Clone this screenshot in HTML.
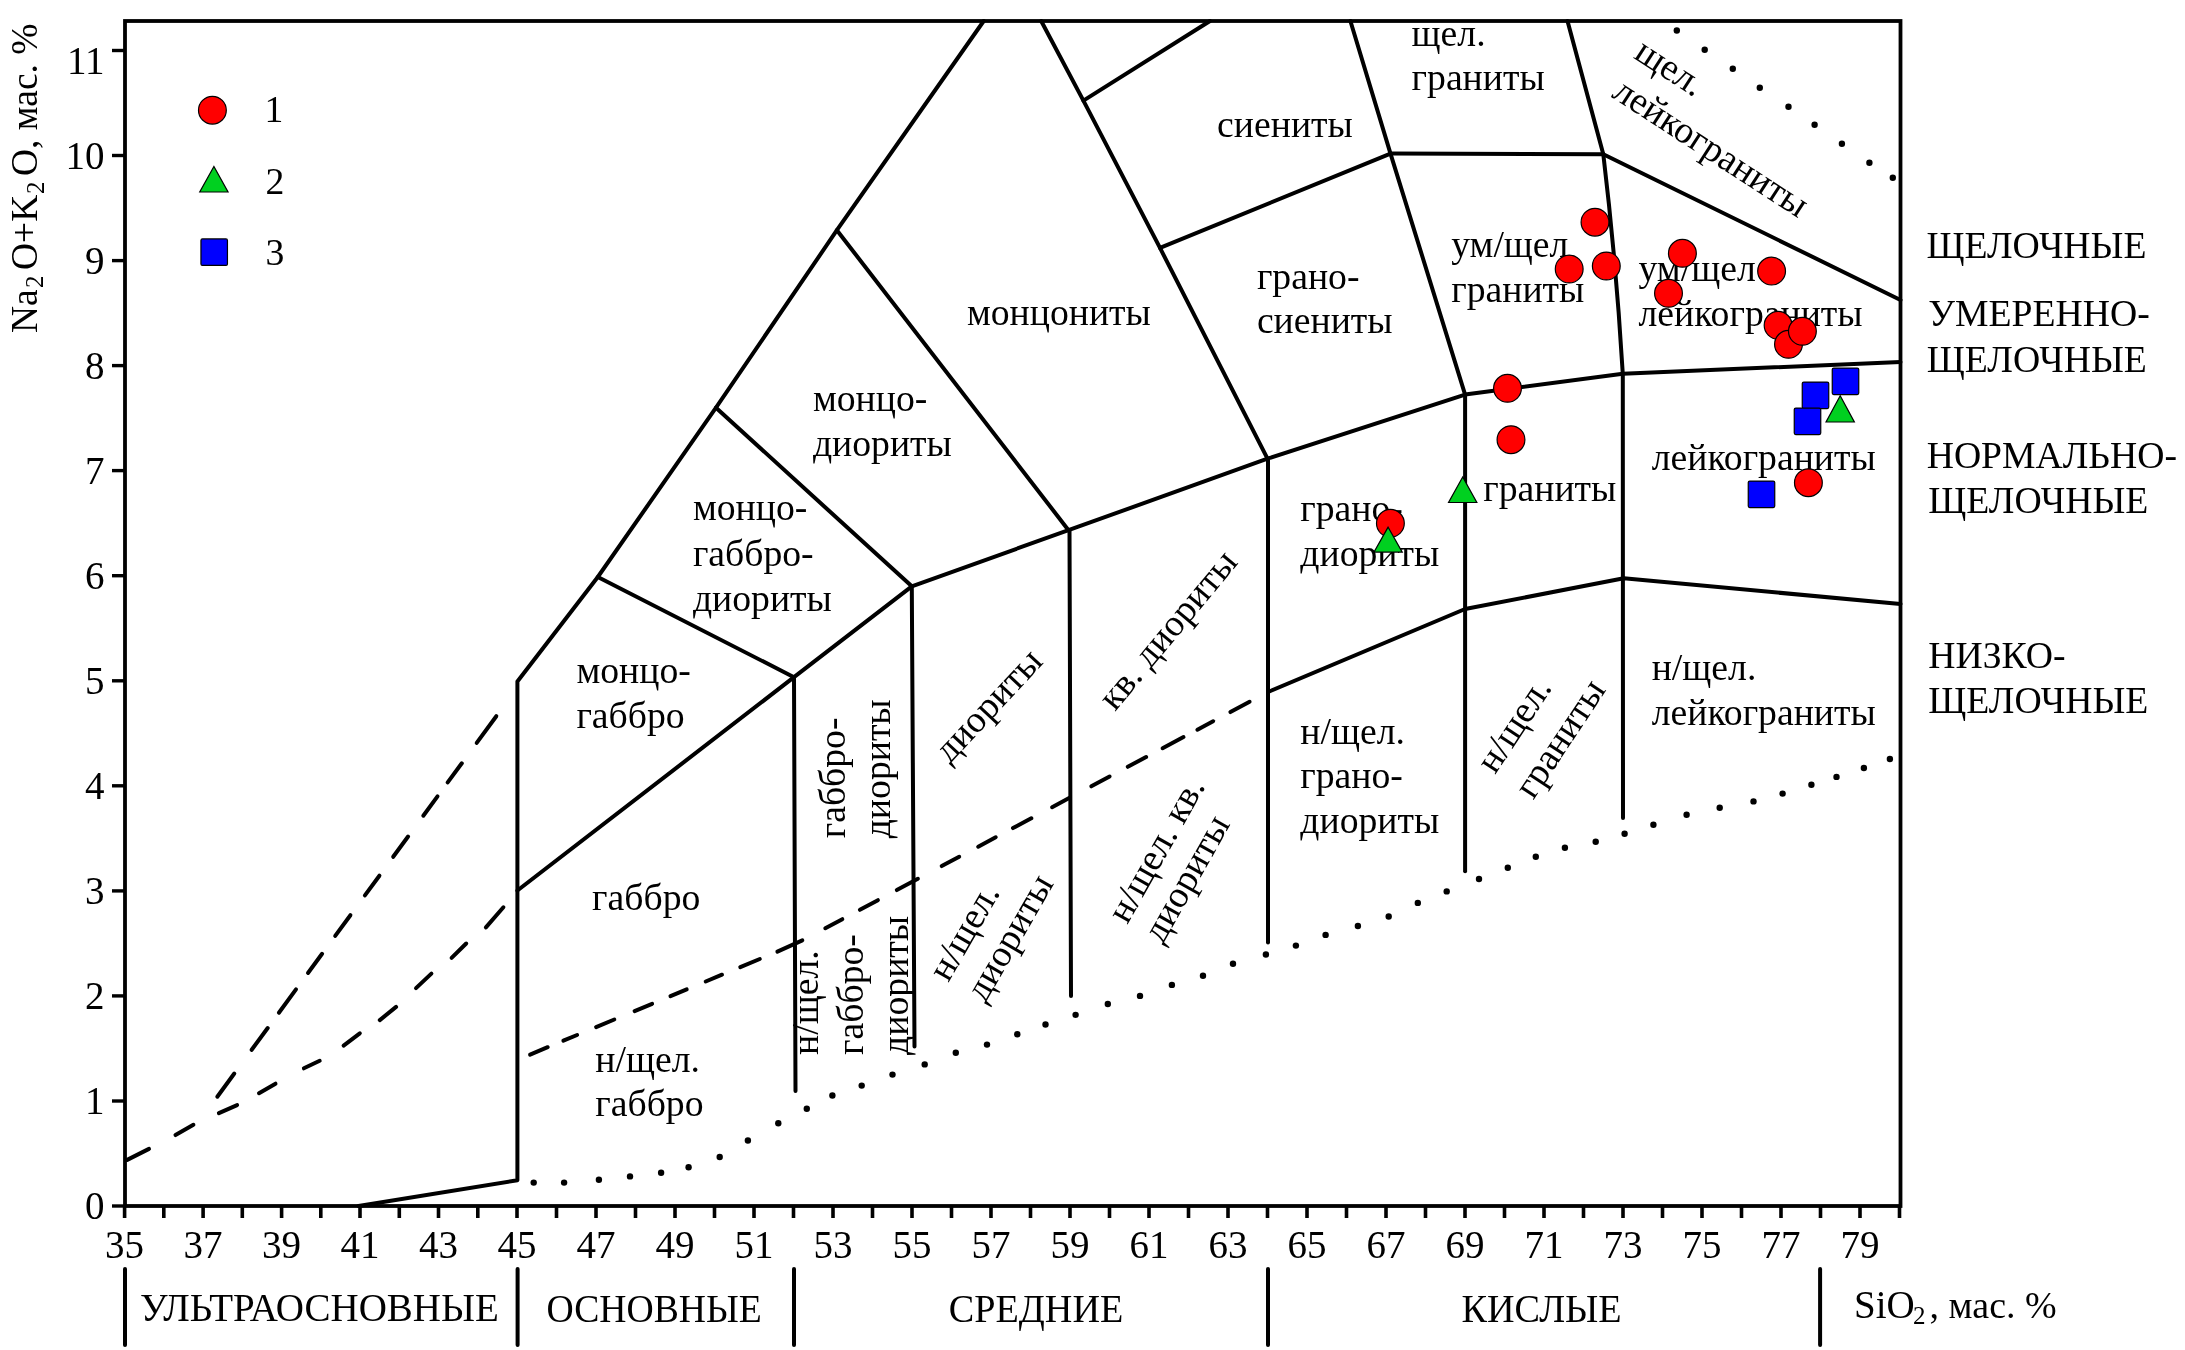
<!DOCTYPE html>
<html><head><meta charset="utf-8"><style>
html,body{margin:0;padding:0;background:#fff;}
svg{display:block;will-change:transform;}
text{font-family:"Liberation Serif",serif;fill:#000;}
</style></head><body>
<svg width="2185" height="1350" viewBox="0 0 2185 1350">
<rect width="2185" height="1350" fill="#fff"/>
<rect x="125.0" y="21.0" width="1775.5" height="1185.0" fill="none" stroke="#000" stroke-width="3.8"/>
<line x1="112" y1="1206.0" x2="125.0" y2="1206.0" stroke="#000" stroke-width="3.4"/>
<line x1="112" y1="1101.0" x2="125.0" y2="1101.0" stroke="#000" stroke-width="3.4"/>
<line x1="112" y1="995.9" x2="125.0" y2="995.9" stroke="#000" stroke-width="3.4"/>
<line x1="112" y1="890.9" x2="125.0" y2="890.9" stroke="#000" stroke-width="3.4"/>
<line x1="112" y1="785.8" x2="125.0" y2="785.8" stroke="#000" stroke-width="3.4"/>
<line x1="112" y1="680.8" x2="125.0" y2="680.8" stroke="#000" stroke-width="3.4"/>
<line x1="112" y1="575.7" x2="125.0" y2="575.7" stroke="#000" stroke-width="3.4"/>
<line x1="112" y1="470.6" x2="125.0" y2="470.6" stroke="#000" stroke-width="3.4"/>
<line x1="112" y1="365.6" x2="125.0" y2="365.6" stroke="#000" stroke-width="3.4"/>
<line x1="112" y1="260.6" x2="125.0" y2="260.6" stroke="#000" stroke-width="3.4"/>
<line x1="112" y1="155.5" x2="125.0" y2="155.5" stroke="#000" stroke-width="3.4"/>
<line x1="112" y1="50.5" x2="125.0" y2="50.5" stroke="#000" stroke-width="3.4"/>
<line x1="124.6" y1="1206.0" x2="124.6" y2="1218" stroke="#000" stroke-width="3.6"/>
<line x1="163.8" y1="1206.0" x2="163.8" y2="1218" stroke="#000" stroke-width="3.6"/>
<line x1="203.1" y1="1206.0" x2="203.1" y2="1218" stroke="#000" stroke-width="3.6"/>
<line x1="242.3" y1="1206.0" x2="242.3" y2="1218" stroke="#000" stroke-width="3.6"/>
<line x1="281.6" y1="1206.0" x2="281.6" y2="1218" stroke="#000" stroke-width="3.6"/>
<line x1="320.8" y1="1206.0" x2="320.8" y2="1218" stroke="#000" stroke-width="3.6"/>
<line x1="360.0" y1="1206.0" x2="360.0" y2="1218" stroke="#000" stroke-width="3.6"/>
<line x1="399.3" y1="1206.0" x2="399.3" y2="1218" stroke="#000" stroke-width="3.6"/>
<line x1="438.5" y1="1206.0" x2="438.5" y2="1218" stroke="#000" stroke-width="3.6"/>
<line x1="477.8" y1="1206.0" x2="477.8" y2="1218" stroke="#000" stroke-width="3.6"/>
<line x1="517.0" y1="1206.0" x2="517.0" y2="1218" stroke="#000" stroke-width="3.6"/>
<line x1="556.5" y1="1206.0" x2="556.5" y2="1218" stroke="#000" stroke-width="3.6"/>
<line x1="596.0" y1="1206.0" x2="596.0" y2="1218" stroke="#000" stroke-width="3.6"/>
<line x1="635.5" y1="1206.0" x2="635.5" y2="1218" stroke="#000" stroke-width="3.6"/>
<line x1="675.0" y1="1206.0" x2="675.0" y2="1218" stroke="#000" stroke-width="3.6"/>
<line x1="714.5" y1="1206.0" x2="714.5" y2="1218" stroke="#000" stroke-width="3.6"/>
<line x1="754.0" y1="1206.0" x2="754.0" y2="1218" stroke="#000" stroke-width="3.6"/>
<line x1="793.5" y1="1206.0" x2="793.5" y2="1218" stroke="#000" stroke-width="3.6"/>
<line x1="833.0" y1="1206.0" x2="833.0" y2="1218" stroke="#000" stroke-width="3.6"/>
<line x1="872.5" y1="1206.0" x2="872.5" y2="1218" stroke="#000" stroke-width="3.6"/>
<line x1="912.0" y1="1206.0" x2="912.0" y2="1218" stroke="#000" stroke-width="3.6"/>
<line x1="951.5" y1="1206.0" x2="951.5" y2="1218" stroke="#000" stroke-width="3.6"/>
<line x1="991.0" y1="1206.0" x2="991.0" y2="1218" stroke="#000" stroke-width="3.6"/>
<line x1="1030.5" y1="1206.0" x2="1030.5" y2="1218" stroke="#000" stroke-width="3.6"/>
<line x1="1070.0" y1="1206.0" x2="1070.0" y2="1218" stroke="#000" stroke-width="3.6"/>
<line x1="1109.5" y1="1206.0" x2="1109.5" y2="1218" stroke="#000" stroke-width="3.6"/>
<line x1="1149.0" y1="1206.0" x2="1149.0" y2="1218" stroke="#000" stroke-width="3.6"/>
<line x1="1188.5" y1="1206.0" x2="1188.5" y2="1218" stroke="#000" stroke-width="3.6"/>
<line x1="1228.0" y1="1206.0" x2="1228.0" y2="1218" stroke="#000" stroke-width="3.6"/>
<line x1="1267.5" y1="1206.0" x2="1267.5" y2="1218" stroke="#000" stroke-width="3.6"/>
<line x1="1307.0" y1="1206.0" x2="1307.0" y2="1218" stroke="#000" stroke-width="3.6"/>
<line x1="1346.5" y1="1206.0" x2="1346.5" y2="1218" stroke="#000" stroke-width="3.6"/>
<line x1="1386.0" y1="1206.0" x2="1386.0" y2="1218" stroke="#000" stroke-width="3.6"/>
<line x1="1425.5" y1="1206.0" x2="1425.5" y2="1218" stroke="#000" stroke-width="3.6"/>
<line x1="1465.0" y1="1206.0" x2="1465.0" y2="1218" stroke="#000" stroke-width="3.6"/>
<line x1="1504.5" y1="1206.0" x2="1504.5" y2="1218" stroke="#000" stroke-width="3.6"/>
<line x1="1544.0" y1="1206.0" x2="1544.0" y2="1218" stroke="#000" stroke-width="3.6"/>
<line x1="1583.5" y1="1206.0" x2="1583.5" y2="1218" stroke="#000" stroke-width="3.6"/>
<line x1="1623.0" y1="1206.0" x2="1623.0" y2="1218" stroke="#000" stroke-width="3.6"/>
<line x1="1662.5" y1="1206.0" x2="1662.5" y2="1218" stroke="#000" stroke-width="3.6"/>
<line x1="1702.0" y1="1206.0" x2="1702.0" y2="1218" stroke="#000" stroke-width="3.6"/>
<line x1="1741.5" y1="1206.0" x2="1741.5" y2="1218" stroke="#000" stroke-width="3.6"/>
<line x1="1781.0" y1="1206.0" x2="1781.0" y2="1218" stroke="#000" stroke-width="3.6"/>
<line x1="1820.5" y1="1206.0" x2="1820.5" y2="1218" stroke="#000" stroke-width="3.6"/>
<line x1="1860.0" y1="1206.0" x2="1860.0" y2="1218" stroke="#000" stroke-width="3.6"/>
<line x1="1899.5" y1="1206.0" x2="1899.5" y2="1218" stroke="#000" stroke-width="3.6"/>
<polyline points="358.5,1206.0 517.4,1180.2 517.4,681.5 597.8,577.0 716.0,407.7 836.9,230.2 983.7,21.0" fill="none" stroke="#000" stroke-width="4" stroke-linejoin="round" stroke-linecap="round"/>
<polyline points="517.4,890.5 794.0,677.2 911.8,586.3 1068.5,530.2 1267.5,458.7 1465.1,394.6 1622.8,373.8 1900.5,362.0" fill="none" stroke="#000" stroke-width="4" stroke-linejoin="round" stroke-linecap="round"/>
<polyline points="597.8,577.0 794.0,677.2" fill="none" stroke="#000" stroke-width="4" stroke-linejoin="round" stroke-linecap="round"/>
<polyline points="716.0,407.7 911.8,586.3" fill="none" stroke="#000" stroke-width="4" stroke-linejoin="round" stroke-linecap="round"/>
<polyline points="836.9,230.2 1068.5,530.2" fill="none" stroke="#000" stroke-width="4" stroke-linejoin="round" stroke-linecap="round"/>
<polyline points="1041.2,21.0 1083.4,100.6 1160.0,247.9 1267.5,458.7" fill="none" stroke="#000" stroke-width="4" stroke-linejoin="round" stroke-linecap="round"/>
<polyline points="1083.4,100.6 1210.0,21.0" fill="none" stroke="#000" stroke-width="4" stroke-linejoin="round" stroke-linecap="round"/>
<polyline points="1160.0,247.9 1390.5,153.6" fill="none" stroke="#000" stroke-width="4" stroke-linejoin="round" stroke-linecap="round"/>
<polyline points="1350.4,21.0 1390.5,153.6 1465.1,394.6" fill="none" stroke="#000" stroke-width="4" stroke-linejoin="round" stroke-linecap="round"/>
<polyline points="1390.5,153.6 1603.3,154.2" fill="none" stroke="#000" stroke-width="4" stroke-linejoin="round" stroke-linecap="round"/>
<path d="M1567.5,21 L1603.3,154.2 Q1616,260 1622.8,373.8" fill="none" stroke="#000" stroke-width="4" stroke-linejoin="round" stroke-linecap="round"/>
<polyline points="1603.3,154.2 1900.5,300.0" fill="none" stroke="#000" stroke-width="4" stroke-linejoin="round" stroke-linecap="round"/>
<polyline points="794.0,677.2 795.5,1091.0" fill="none" stroke="#000" stroke-width="4" stroke-linejoin="round" stroke-linecap="round"/>
<polyline points="911.8,586.3 914.5,1046.5" fill="none" stroke="#000" stroke-width="4" stroke-linejoin="round" stroke-linecap="round"/>
<polyline points="1069.5,530.2 1071.0,996.0" fill="none" stroke="#000" stroke-width="4" stroke-linejoin="round" stroke-linecap="round"/>
<polyline points="1268.0,458.7 1268.0,942.5" fill="none" stroke="#000" stroke-width="4" stroke-linejoin="round" stroke-linecap="round"/>
<polyline points="1465.1,394.6 1465.1,871.2" fill="none" stroke="#000" stroke-width="4" stroke-linejoin="round" stroke-linecap="round"/>
<polyline points="1622.8,373.8 1623.0,818.0" fill="none" stroke="#000" stroke-width="4" stroke-linejoin="round" stroke-linecap="round"/>
<polyline points="1268.0,692.0 1465.1,609.0 1623.8,578.3 1900.5,604.0" fill="none" stroke="#000" stroke-width="4" stroke-linejoin="round" stroke-linecap="round"/>
<line x1="217.3" y1="1096.7" x2="234.3" y2="1073.5" stroke="#000" stroke-width="4" stroke-linecap="round"/>
<line x1="251.7" y1="1049.8" x2="267.7" y2="1028.0" stroke="#000" stroke-width="4" stroke-linecap="round"/>
<line x1="278.9" y1="1012.7" x2="296.0" y2="989.4" stroke="#000" stroke-width="4" stroke-linecap="round"/>
<line x1="308.0" y1="973.0" x2="322.1" y2="953.8" stroke="#000" stroke-width="4" stroke-linecap="round"/>
<line x1="335.2" y1="935.9" x2="350.4" y2="915.2" stroke="#000" stroke-width="4" stroke-linecap="round"/>
<line x1="364.9" y1="895.4" x2="379.4" y2="875.7" stroke="#000" stroke-width="4" stroke-linecap="round"/>
<line x1="393.2" y1="856.8" x2="408.1" y2="836.5" stroke="#000" stroke-width="4" stroke-linecap="round"/>
<line x1="423.3" y1="815.7" x2="437.5" y2="796.4" stroke="#000" stroke-width="4" stroke-linecap="round"/>
<line x1="447.7" y1="782.4" x2="461.8" y2="763.3" stroke="#000" stroke-width="4" stroke-linecap="round"/>
<line x1="476.7" y1="742.9" x2="496.3" y2="716.2" stroke="#000" stroke-width="4" stroke-linecap="round"/>
<line x1="127.2" y1="1159.9" x2="149.0" y2="1148.9" stroke="#000" stroke-width="4" stroke-linecap="round"/>
<line x1="175.5" y1="1135.1" x2="193.4" y2="1124.8" stroke="#000" stroke-width="4" stroke-linecap="round"/>
<line x1="218.9" y1="1113.1" x2="237.1" y2="1105.1" stroke="#000" stroke-width="4" stroke-linecap="round"/>
<line x1="259.0" y1="1093.2" x2="275.5" y2="1083.7" stroke="#000" stroke-width="4" stroke-linecap="round"/>
<line x1="303.9" y1="1068.3" x2="319.7" y2="1060.8" stroke="#000" stroke-width="4" stroke-linecap="round"/>
<line x1="343.6" y1="1045.6" x2="359.8" y2="1033.3" stroke="#000" stroke-width="4" stroke-linecap="round"/>
<line x1="379.8" y1="1020.1" x2="396.1" y2="1006.9" stroke="#000" stroke-width="4" stroke-linecap="round"/>
<line x1="416.0" y1="988.1" x2="431.4" y2="973.6" stroke="#000" stroke-width="4" stroke-linecap="round"/>
<line x1="451.6" y1="957.9" x2="466.2" y2="943.5" stroke="#000" stroke-width="4" stroke-linecap="round"/>
<line x1="485.9" y1="927.4" x2="503.4" y2="907.3" stroke="#000" stroke-width="4" stroke-linecap="round"/>
<line x1="530.1" y1="1054.6" x2="547.7" y2="1047.2" stroke="#000" stroke-width="4" stroke-linecap="round"/>
<line x1="563.4" y1="1040.7" x2="577.1" y2="1035.0" stroke="#000" stroke-width="4" stroke-linecap="round"/>
<line x1="596.1" y1="1027.1" x2="614.3" y2="1019.5" stroke="#000" stroke-width="4" stroke-linecap="round"/>
<line x1="634.6" y1="1011.1" x2="652.1" y2="1003.8" stroke="#000" stroke-width="4" stroke-linecap="round"/>
<line x1="670.5" y1="996.2" x2="686.7" y2="989.4" stroke="#000" stroke-width="4" stroke-linecap="round"/>
<line x1="705.7" y1="981.5" x2="722.0" y2="974.7" stroke="#000" stroke-width="4" stroke-linecap="round"/>
<line x1="740.3" y1="967.2" x2="759.8" y2="959.0" stroke="#000" stroke-width="4" stroke-linecap="round"/>
<line x1="777.4" y1="951.6" x2="802.3" y2="940.4" stroke="#000" stroke-width="4" stroke-linecap="round"/>
<line x1="825.3" y1="928.2" x2="842.3" y2="919.2" stroke="#000" stroke-width="4" stroke-linecap="round"/>
<line x1="859.9" y1="909.8" x2="877.9" y2="900.2" stroke="#000" stroke-width="4" stroke-linecap="round"/>
<line x1="896.8" y1="890.1" x2="917.9" y2="878.8" stroke="#000" stroke-width="4" stroke-linecap="round"/>
<line x1="941.7" y1="866.1" x2="959.2" y2="856.8" stroke="#000" stroke-width="4" stroke-linecap="round"/>
<line x1="978.2" y1="846.7" x2="995.7" y2="837.3" stroke="#000" stroke-width="4" stroke-linecap="round"/>
<line x1="1013.0" y1="828.1" x2="1031.3" y2="818.3" stroke="#000" stroke-width="4" stroke-linecap="round"/>
<line x1="1052.1" y1="807.2" x2="1069.6" y2="797.8" stroke="#000" stroke-width="4" stroke-linecap="round"/>
<line x1="1091.3" y1="786.3" x2="1109.6" y2="776.5" stroke="#000" stroke-width="4" stroke-linecap="round"/>
<line x1="1127.8" y1="766.8" x2="1146.1" y2="757.0" stroke="#000" stroke-width="4" stroke-linecap="round"/>
<line x1="1162.6" y1="748.2" x2="1183.5" y2="737.1" stroke="#000" stroke-width="4" stroke-linecap="round"/>
<line x1="1197.4" y1="729.7" x2="1213.1" y2="721.3" stroke="#000" stroke-width="4" stroke-linecap="round"/>
<line x1="1230.4" y1="712.1" x2="1249.6" y2="701.8" stroke="#000" stroke-width="4" stroke-linecap="round"/>
<circle cx="533.7" cy="1182.6" r="3.2" fill="#000"/>
<circle cx="564.1" cy="1182.6" r="3.2" fill="#000"/>
<circle cx="598.9" cy="1179.7" r="3.2" fill="#000"/>
<circle cx="630" cy="1176.4" r="3.2" fill="#000"/>
<circle cx="661.1" cy="1172.7" r="3.2" fill="#000"/>
<circle cx="688.6" cy="1167.3" r="3.2" fill="#000"/>
<circle cx="719.7" cy="1157" r="3.2" fill="#000"/>
<circle cx="747.9" cy="1140.5" r="3.2" fill="#000"/>
<circle cx="778.3" cy="1123.3" r="3.2" fill="#000"/>
<circle cx="806.8" cy="1108.7" r="3.2" fill="#000"/>
<circle cx="832.4" cy="1095.5" r="3.2" fill="#000"/>
<circle cx="861.7" cy="1085.6" r="3.2" fill="#000"/>
<circle cx="892.5" cy="1074.6" r="3.2" fill="#000"/>
<circle cx="924.7" cy="1064.4" r="3.2" fill="#000"/>
<circle cx="955.8" cy="1052.7" r="3.2" fill="#000"/>
<circle cx="987" cy="1044.6" r="3.2" fill="#000"/>
<circle cx="1017.3" cy="1034.3" r="3.2" fill="#000"/>
<circle cx="1045.5" cy="1024.5" r="3.2" fill="#000"/>
<circle cx="1075.6" cy="1014.9" r="3.2" fill="#000"/>
<circle cx="1107.8" cy="1004" r="3.2" fill="#000"/>
<circle cx="1140" cy="995.9" r="3.2" fill="#000"/>
<circle cx="1171.9" cy="984.9" r="3.2" fill="#000"/>
<circle cx="1203" cy="975.8" r="3.2" fill="#000"/>
<circle cx="1233" cy="963.7" r="3.2" fill="#000"/>
<circle cx="1265.9" cy="954.5" r="3.2" fill="#000"/>
<circle cx="1295.9" cy="945.6" r="3.2" fill="#000"/>
<circle cx="1325.6" cy="934.9" r="3.2" fill="#000"/>
<circle cx="1357.9" cy="926" r="3.2" fill="#000"/>
<circle cx="1388.7" cy="916.5" r="3.2" fill="#000"/>
<circle cx="1417.8" cy="902.9" r="3.2" fill="#000"/>
<circle cx="1446.7" cy="891.4" r="3.2" fill="#000"/>
<circle cx="1479" cy="879" r="3.2" fill="#000"/>
<circle cx="1507.8" cy="867.7" r="3.2" fill="#000"/>
<circle cx="1535.8" cy="856.8" r="3.2" fill="#000"/>
<circle cx="1564.9" cy="847.8" r="3.2" fill="#000"/>
<circle cx="1595.7" cy="841.8" r="3.2" fill="#000"/>
<circle cx="1624.6" cy="833.7" r="3.2" fill="#000"/>
<circle cx="1653.4" cy="824.8" r="3.2" fill="#000"/>
<circle cx="1686.6" cy="814.7" r="3.2" fill="#000"/>
<circle cx="1719.7" cy="807.8" r="3.2" fill="#000"/>
<circle cx="1753.5" cy="801.4" r="3.2" fill="#000"/>
<circle cx="1782.6" cy="793.6" r="3.2" fill="#000"/>
<circle cx="1811.4" cy="784.7" r="3.2" fill="#000"/>
<circle cx="1836.5" cy="776.9" r="3.2" fill="#000"/>
<circle cx="1863.9" cy="768" r="3.2" fill="#000"/>
<circle cx="1889.9" cy="759" r="3.2" fill="#000"/>
<circle cx="1676.8" cy="30.5" r="3.2" fill="#000"/>
<circle cx="1704.7" cy="49.8" r="3.2" fill="#000"/>
<circle cx="1732.8" cy="68.7" r="3.2" fill="#000"/>
<circle cx="1759.8" cy="87.7" r="3.2" fill="#000"/>
<circle cx="1788.5" cy="106.7" r="3.2" fill="#000"/>
<circle cx="1814.6" cy="124.7" r="3.2" fill="#000"/>
<circle cx="1841.9" cy="143.7" r="3.2" fill="#000"/>
<circle cx="1869.4" cy="162.7" r="3.2" fill="#000"/>
<circle cx="1892.8" cy="177.8" r="3.2" fill="#000"/>
<text x="966.9" y="325.1" font-size="37.7" >монцониты</text>
<text x="1217.1" y="137.3" font-size="37.7" >сиениты</text>
<text x="1411.6" y="45.6" font-size="37.7" >щел.</text>
<text x="1411.6" y="89.9" font-size="37.7" >граниты</text>
<text x="1256.9" y="289" font-size="37.7" >грано-</text>
<text x="1256.9" y="332.8" font-size="37.7" >сиениты</text>
<text x="1451.2" y="257" font-size="37.7" >ум/щел</text>
<text x="1451.2" y="302" font-size="37.7" >граниты</text>
<text x="1638.5" y="281" font-size="37.7" >ум/щел</text>
<text x="1638.5" y="326" font-size="37.7" >лейкограниты</text>
<text x="812.9" y="411.2" font-size="37.7" >монцо-</text>
<text x="812.9" y="455.5" font-size="37.7" >диориты</text>
<text x="692.9" y="520.3" font-size="37.7" >монцо-</text>
<text x="692.9" y="566.3" font-size="37.7" >габбро-</text>
<text x="692.9" y="610.6" font-size="37.7" >диориты</text>
<text x="576.4" y="683.2" font-size="37.7" >монцо-</text>
<text x="576.4" y="728.2" font-size="37.7" >габбро</text>
<text x="592.1" y="909.8" font-size="37.7" >габбро</text>
<text x="595.3" y="1071.5" font-size="37.7" >н/щел.</text>
<text x="595.3" y="1116.1" font-size="37.7" >габбро</text>
<text x="1300.3" y="520.6" font-size="37.7" >грано-</text>
<text x="1300.3" y="565.6" font-size="37.7" >диориты</text>
<text x="1483.2" y="501.3" font-size="37.7" >граниты</text>
<text x="1651.7" y="470" font-size="37.7" >лейкограниты</text>
<text x="1300.3" y="743.9" font-size="37.7" >н/щел.</text>
<text x="1300.3" y="788.2" font-size="37.7" >грано-</text>
<text x="1300.3" y="832.5" font-size="37.7" >диориты</text>
<text x="1651.7" y="680" font-size="37.7" >н/щел.</text>
<text x="1651.7" y="725" font-size="37.7" >лейкограниты</text>
<text x="1926.5" y="258" font-size="37.7" >ЩЕЛОЧНЫЕ</text>
<text x="1928.3" y="326" font-size="37.7" >УМЕРЕННО-</text>
<text x="1926.8" y="371.8" font-size="37.7" >ЩЕЛОЧНЫЕ</text>
<text x="1926.7" y="468.3" font-size="37.7" >НОРМАЛЬНО-</text>
<text x="1928.3" y="513.3" font-size="37.7" >ЩЕЛОЧНЫЕ</text>
<text x="1928.3" y="668.3" font-size="37.7" >НИЗКО-</text>
<text x="1928.3" y="713.3" font-size="37.7" >ЩЕЛОЧНЫЕ</text>
<text transform="translate(845,838.3) rotate(-90)" font-size="37.7">габбро-</text>
<text transform="translate(890.1,838.3) rotate(-90)" font-size="37.7">диориты</text>
<text transform="translate(818.2,1054.9) rotate(-90)" font-size="37.7">н/щел.</text>
<text transform="translate(862.7,1054.9) rotate(-90)" font-size="37.7">габбро-</text>
<text transform="translate(908.4,1054.9) rotate(-90)" font-size="37.7">диориты</text>
<text transform="translate(949.5,764.4) rotate(-47)" font-size="37.7">диориты</text>
<text transform="translate(1115,712) rotate(-50.3)" font-size="37.7">кв. диориты</text>
<text transform="translate(948.3,983) rotate(-60)" font-size="37.7">н/щел.</text>
<text transform="translate(985,1003.8) rotate(-60)" font-size="37.7">диориты</text>
<text transform="translate(1127.2,925) rotate(-60.5)" font-size="37.7">н/щел. кв.</text>
<text transform="translate(1162.4,945) rotate(-60.5)" font-size="37.7">диориты</text>
<text transform="translate(1495,775) rotate(-56.5)" font-size="37.7">н/щел.</text>
<text transform="translate(1533.2,800.6) rotate(-56.5)" font-size="37.7">граниты</text>
<text transform="translate(1632.6,57.4) rotate(33)" font-size="37.7">щел.</text>
<text transform="translate(1610.5,96.5) rotate(33)" font-size="37.7">лейкограниты</text>
<text x="124.6" y="1258.3" font-size="39" text-anchor="middle">35</text>
<text x="203.1" y="1258.3" font-size="39" text-anchor="middle">37</text>
<text x="281.6" y="1258.3" font-size="39" text-anchor="middle">39</text>
<text x="360.0" y="1258.3" font-size="39" text-anchor="middle">41</text>
<text x="438.5" y="1258.3" font-size="39" text-anchor="middle">43</text>
<text x="517.0" y="1258.3" font-size="39" text-anchor="middle">45</text>
<text x="596.0" y="1258.3" font-size="39" text-anchor="middle">47</text>
<text x="675.0" y="1258.3" font-size="39" text-anchor="middle">49</text>
<text x="754.0" y="1258.3" font-size="39" text-anchor="middle">51</text>
<text x="833.0" y="1258.3" font-size="39" text-anchor="middle">53</text>
<text x="912.0" y="1258.3" font-size="39" text-anchor="middle">55</text>
<text x="991.0" y="1258.3" font-size="39" text-anchor="middle">57</text>
<text x="1070.0" y="1258.3" font-size="39" text-anchor="middle">59</text>
<text x="1149.0" y="1258.3" font-size="39" text-anchor="middle">61</text>
<text x="1228.0" y="1258.3" font-size="39" text-anchor="middle">63</text>
<text x="1307.0" y="1258.3" font-size="39" text-anchor="middle">65</text>
<text x="1386.0" y="1258.3" font-size="39" text-anchor="middle">67</text>
<text x="1465.0" y="1258.3" font-size="39" text-anchor="middle">69</text>
<text x="1544.0" y="1258.3" font-size="39" text-anchor="middle">71</text>
<text x="1623.0" y="1258.3" font-size="39" text-anchor="middle">73</text>
<text x="1702.0" y="1258.3" font-size="39" text-anchor="middle">75</text>
<text x="1781.0" y="1258.3" font-size="39" text-anchor="middle">77</text>
<text x="1860.0" y="1258.3" font-size="39" text-anchor="middle">79</text>
<text x="104.5" y="1219.2" font-size="39" text-anchor="end">0</text>
<text x="104.5" y="1114.2" font-size="39" text-anchor="end">1</text>
<text x="104.5" y="1009.1" font-size="39" text-anchor="end">2</text>
<text x="104.5" y="904.1" font-size="39" text-anchor="end">3</text>
<text x="104.5" y="799.0" font-size="39" text-anchor="end">4</text>
<text x="104.5" y="694.0" font-size="39" text-anchor="end">5</text>
<text x="104.5" y="588.9" font-size="39" text-anchor="end">6</text>
<text x="104.5" y="483.8" font-size="39" text-anchor="end">7</text>
<text x="104.5" y="378.8" font-size="39" text-anchor="end">8</text>
<text x="104.5" y="273.8" font-size="39" text-anchor="end">9</text>
<text x="104.5" y="168.7" font-size="39" text-anchor="end">10</text>
<text x="104.5" y="74.0" font-size="39" text-anchor="end">11</text>
<line x1="125" y1="1269" x2="125" y2="1345" stroke="#000" stroke-width="4" stroke-linecap="round"/>
<line x1="517.6" y1="1269" x2="517.6" y2="1345" stroke="#000" stroke-width="4" stroke-linecap="round"/>
<line x1="794" y1="1269" x2="794" y2="1345" stroke="#000" stroke-width="4" stroke-linecap="round"/>
<line x1="1268" y1="1269" x2="1268" y2="1345" stroke="#000" stroke-width="4" stroke-linecap="round"/>
<line x1="1820.1" y1="1269" x2="1820.1" y2="1345" stroke="#000" stroke-width="4" stroke-linecap="round"/>
<text x="140" y="1321" font-size="39" >УЛЬТРАОСНОВНЫЕ</text>
<text transform="translate(546.5,1322) scale(0.966,1)" font-size="39">ОСНОВНЫЕ</text>
<text transform="translate(948.8,1322) scale(0.979,1)" font-size="39">СРЕДНИЕ</text>
<text transform="translate(1461.6,1322) scale(0.979,1)" font-size="39">КИСЛЫЕ</text>
<text x="1854" y="1317.9" font-size="39" >SiO</text>
<text x="1913" y="1324.2" font-size="25" >2</text>
<text transform="translate(1929.6,1317.9) scale(0.974,1)" font-size="39">, мас. %</text>
<text transform="translate(36.7,333) rotate(-90)" font-size="37.5">Na</text>
<text transform="translate(43.3,288) rotate(-90)" font-size="25">2</text>
<text transform="translate(36.7,270) rotate(-90)" font-size="37.5">O+K</text>
<text transform="translate(44,194) rotate(-90)" font-size="25">2</text>
<text transform="translate(36.7,176) rotate(-90)" font-size="37.5">O, мас. %</text>
<circle cx="212.4" cy="110.2" r="13.9" fill="#ff0000" stroke="#000" stroke-width="1.2"/>
<text x="264.6" y="122.3" font-size="37.7" >1</text>
<polygon points="213.9,166.5 199.75,192 228.05,192" fill="#00d020" stroke="#000" stroke-width="1.2" stroke-linejoin="miter"/>
<text x="265.6" y="194" font-size="37.7" >2</text>
<rect x="200.95" y="238.95" width="26.5" height="26.5" rx="1.5" fill="#0000ff" stroke="#000" stroke-width="1.2"/>
<text x="265.6" y="265" font-size="37.7" >3</text>
<circle cx="1507.5" cy="388.3" r="13.9" fill="#ff0000" stroke="#000" stroke-width="1.2"/>
<circle cx="1511" cy="439.7" r="13.9" fill="#ff0000" stroke="#000" stroke-width="1.2"/>
<circle cx="1390.4" cy="523.3" r="13.9" fill="#ff0000" stroke="#000" stroke-width="1.2"/>
<circle cx="1595" cy="222.2" r="13.9" fill="#ff0000" stroke="#000" stroke-width="1.2"/>
<circle cx="1569.2" cy="269" r="13.9" fill="#ff0000" stroke="#000" stroke-width="1.2"/>
<circle cx="1606.3" cy="266" r="13.9" fill="#ff0000" stroke="#000" stroke-width="1.2"/>
<circle cx="1682.4" cy="253.3" r="13.9" fill="#ff0000" stroke="#000" stroke-width="1.2"/>
<circle cx="1668.5" cy="293.3" r="13.9" fill="#ff0000" stroke="#000" stroke-width="1.2"/>
<circle cx="1771.6" cy="271.1" r="13.9" fill="#ff0000" stroke="#000" stroke-width="1.2"/>
<circle cx="1778.1" cy="325.3" r="13.9" fill="#ff0000" stroke="#000" stroke-width="1.2"/>
<circle cx="1788.5" cy="344.3" r="13.9" fill="#ff0000" stroke="#000" stroke-width="1.2"/>
<circle cx="1802.4" cy="331.3" r="13.9" fill="#ff0000" stroke="#000" stroke-width="1.2"/>
<circle cx="1808.4" cy="482.7" r="13.9" fill="#ff0000" stroke="#000" stroke-width="1.2"/>
<polygon points="1462.7,477 1448.55,502.5 1476.8500000000001,502.5" fill="#00d020" stroke="#000" stroke-width="1.2" stroke-linejoin="miter"/>
<polygon points="1388.1,527.1 1373.9499999999998,552.1 1402.25,552.1" fill="#00d020" stroke="#000" stroke-width="1.2" stroke-linejoin="miter"/>
<polygon points="1840.2,395.8 1826.05,422 1854.3500000000001,422" fill="#00d020" stroke="#000" stroke-width="1.2" stroke-linejoin="miter"/>
<rect x="1832.25" y="368.05" width="26.5" height="26.5" rx="1.5" fill="#0000ff" stroke="#000" stroke-width="1.2"/>
<rect x="1802.25" y="382.05" width="26.5" height="26.5" rx="1.5" fill="#0000ff" stroke="#000" stroke-width="1.2"/>
<rect x="1794.25" y="408.05" width="26.5" height="26.5" rx="1.5" fill="#0000ff" stroke="#000" stroke-width="1.2"/>
<rect x="1748.25" y="481.05" width="26.5" height="26.5" rx="1.5" fill="#0000ff" stroke="#000" stroke-width="1.2"/>
</svg></body></html>
